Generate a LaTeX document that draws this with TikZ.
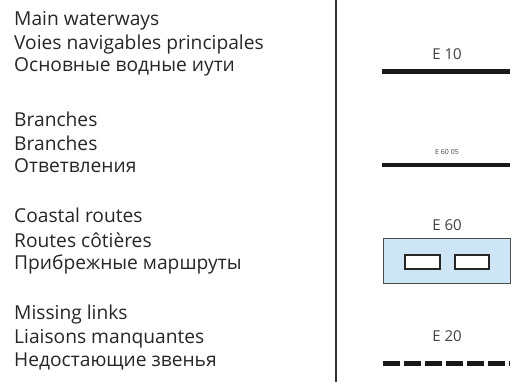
\documentclass[tikz,border=0pt]{standalone}
\usepackage{fontspec}
\setmainfont{Open Sans}
\usetikzlibrary{calc}
\definecolor{coastblue}{RGB}{205,229,244}

\begin{document}
\begin{tikzpicture}[x=1pt,y=-1pt]
    \useasboundingbox (0,0) rectangle (532,382);
    \tikzset{legtext/.style={anchor=west,inner sep=0pt,text=black!85,font=\fontsize{19.2}{21}\selectfont},
             code/.style={inner sep=0pt,text=black!75,font=\fontsize{15}{17}\selectfont}}

    % divider
    \coordinate (top) at (336,0);
    \coordinate (bottom) at (336,382);
    \draw[line width=1.6pt,black!80](top)--(bottom);

    % main waterways
    \node[legtext] (main1) at (14,21) {Main waterways};
    \node[legtext] (main2) at (14,45) {Voies navigables principales};
    \node[legtext] (main3) at (14,67) {Основные водные иути};
    \node[code] (e10) at (447,54) {E 10};
    \coordinate (mainL) at (382,72);
    \coordinate (mainR) at (510,72);
    \draw[line width=5pt,black!90](mainL)--(mainR);

    % branches
    \node[legtext] (branch1) at (14,119) {Branches};
    \node[legtext] (branch2) at (14,143) {Branches};
    \node[legtext] (branch3) at (14,166) {Ответвления};
    \node[code,font=\fontsize{7}{8}\selectfont] (e6005) at (447,152) {E 60 05};
    \coordinate (branchL) at (382,165);
    \coordinate (branchR) at (510,165);
    \draw[line width=3.5pt,black!90](branchL)--(branchR);

    % coastal routes
    \node[legtext] (coast1) at (14,215) {Coastal routes};
    \node[legtext] (coast2) at (14,240) {Routes côtières};
    \node[legtext] (coast3) at (14,264) {Прибрежные маршруты};
    \node[code] (e60) at (447,225) {E 60};
    \draw[fill=coastblue,draw=black!70,line width=0.8pt](383,238) rectangle (510,283);
    \draw[fill=white,draw=black!85,line width=1.2pt](405,255) rectangle (440,269);
    \draw[fill=white,draw=black!85,line width=1.2pt](455,255) rectangle (489,269);

    % missing links
    \node[legtext] (miss1) at (14,315) {Missing links};
    \node[legtext] (miss2) at (14,339) {Liaisons manquantes};
    \node[legtext] (miss3) at (14,361) {Недостающие звенья};
    \node[code] (e20) at (447,336) {E 20};
    \coordinate (missL) at (383,363);
    \coordinate (missR) at (510,363);
    \draw[line width=5pt,black!90,dash pattern=on 17pt off 4pt](missL)--(missR);
  \end{tikzpicture}
\end{document}
